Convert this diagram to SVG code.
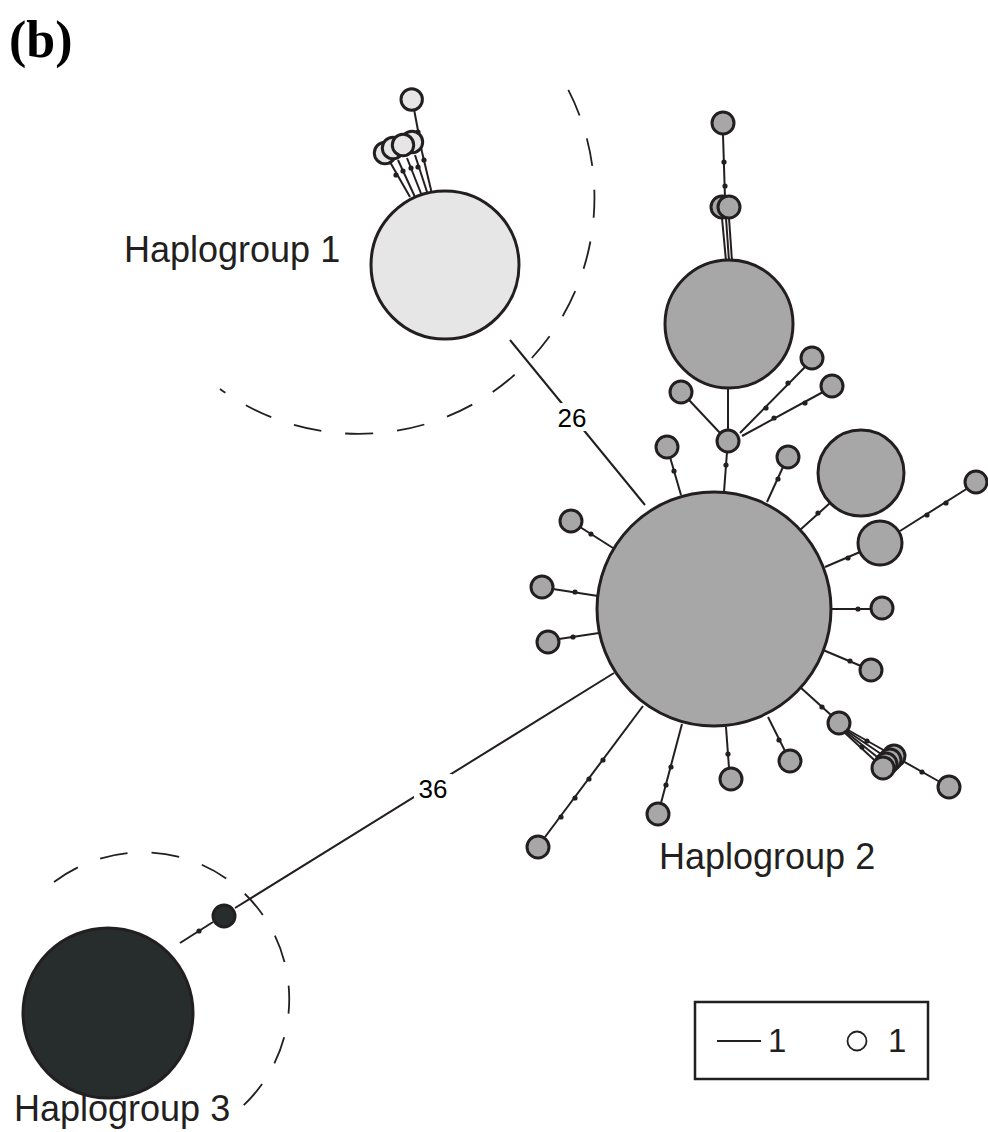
<svg xmlns="http://www.w3.org/2000/svg" width="988" height="1132" viewBox="0 0 988 1132">
<style>
.e{stroke:#231f20;stroke-width:2;fill:none}
.d{fill:#231f20}
.n{stroke:#231f20;stroke-width:3}
.h1{fill:#e6e6e6}
.h2{fill:#a7a7a7}
.h3{fill:#272c2c}
.dash{stroke:#231f20;stroke-width:1.8;fill:none;stroke-dasharray:28 24}
.lab{font-family:"Liberation Sans",Arial,sans-serif;font-size:36px;fill:#231f20}
.num{font-family:"Liberation Sans",Arial,sans-serif;font-size:26px;fill:#000}
</style>
<rect width="988" height="1132" fill="#fff"/>
<text x="9" y="57" font-family="Liberation Serif,Times New Roman,serif" font-weight="bold" font-size="52" fill="#000">(b)</text>

<g id="dashed">
<path class="dash" d="M568.3,89.9 A236,236 0 0 1 220,389"/>
<path class="dash" d="M54,882 A145,145 0 1 1 231,1116"/>
</g>

<g id="connectors">
<line class="e" x1="510" y1="340" x2="645" y2="505"/>
<line class="e" x1="614" y1="673" x2="235" y2="908"/>
<line class="e" x1="180" y1="943" x2="213" y2="922"/>
<line class="e" x1="414" y1="109" x2="422" y2="152"/>
<line class="e" x1="390" y1="162" x2="410" y2="197"/>
<line class="e" x1="398" y1="160" x2="415" y2="197"/>
<line class="e" x1="407" y1="158" x2="422" y2="196"/>
<line class="e" x1="415" y1="155" x2="428" y2="195"/>
<line class="e" x1="422" y1="152" x2="432" y2="194"/>
<line class="e" x1="723" y1="135" x2="725" y2="198"/>
<line class="e" x1="722" y1="218" x2="726" y2="261"/>
<line class="e" x1="726" y1="218" x2="729" y2="261"/>
<line class="e" x1="729" y1="218" x2="732" y2="261"/>
<line class="e" x1="728" y1="388" x2="728" y2="430"/>
<line class="e" x1="689" y1="400" x2="720" y2="433"/>
<line class="e" x1="740" y1="433" x2="805" y2="367"/>
<line class="e" x1="742" y1="436" x2="823" y2="392"/>
<line class="e" x1="727" y1="452" x2="724" y2="492"/>
<line class="e" x1="670" y1="457" x2="681" y2="495"/>
<line class="e" x1="783" y1="467" x2="767" y2="502"/>
<line class="e" x1="800" y1="530" x2="830" y2="503"/>
<line class="e" x1="825" y1="567" x2="860" y2="552"/>
<line class="e" x1="900" y1="531" x2="968" y2="488"/>
<line class="e" x1="831" y1="609" x2="871" y2="609"/>
<line class="e" x1="823" y1="650" x2="861" y2="666"/>
<line class="e" x1="800" y1="687" x2="831" y2="715"/>
<line class="e" x1="848" y1="730" x2="894" y2="756"/>
<line class="e" x1="847" y1="731" x2="890" y2="760"/>
<line class="e" x1="846" y1="732" x2="886" y2="764"/>
<line class="e" x1="845" y1="733" x2="883" y2="768"/>
<line class="e" x1="894" y1="756" x2="940" y2="782"/>
<line class="e" x1="768" y1="717" x2="785" y2="751"/>
<line class="e" x1="726" y1="727" x2="729" y2="768"/>
<line class="e" x1="682" y1="724" x2="661" y2="803"/>
<line class="e" x1="643" y1="706" x2="545" y2="837"/>
<line class="e" x1="580" y1="527" x2="613" y2="548"/>
<line class="e" x1="553" y1="589" x2="598" y2="596"/>
<line class="e" x1="559" y1="639" x2="599" y2="633"/>
<g class="d">
<circle cx="199" cy="931" r="2.6"/>
<circle cx="418" cy="132" r="2.6"/>
<circle cx="396" cy="175" r="2.6"/>
<circle cx="403" cy="171" r="2.6"/>
<circle cx="411" cy="168" r="2.6"/>
<circle cx="418" cy="167" r="2.6"/>
<circle cx="424" cy="160" r="2.6"/>
<circle cx="724" cy="162" r="2.6"/>
<circle cx="725" cy="186" r="2.6"/>
<circle cx="788" cy="383" r="2.6"/>
<circle cx="766" cy="408" r="2.6"/>
<circle cx="805" cy="403" r="2.6"/>
<circle cx="774" cy="418" r="2.6"/>
<circle cx="726" cy="465" r="2.6"/>
<circle cx="674" cy="471" r="2.6"/>
<circle cx="778" cy="479" r="2.6"/>
<circle cx="818" cy="513" r="2.6"/>
<circle cx="848" cy="558" r="2.6"/>
<circle cx="927" cy="515" r="2.6"/>
<circle cx="946" cy="503" r="2.6"/>
<circle cx="858" cy="609" r="2.6"/>
<circle cx="850" cy="661" r="2.6"/>
<circle cx="822" cy="707" r="2.6"/>
<circle cx="867" cy="741" r="2.6"/>
<circle cx="862" cy="747" r="2.6"/>
<circle cx="922" cy="772" r="2.6"/>
<circle cx="779" cy="740" r="2.6"/>
<circle cx="728" cy="754" r="2.6"/>
<circle cx="671" cy="767" r="2.6"/>
<circle cx="666" cy="785" r="2.6"/>
<circle cx="603" cy="760" r="2.6"/>
<circle cx="589" cy="779" r="2.6"/>
<circle cx="575" cy="798" r="2.6"/>
<circle cx="561" cy="817" r="2.6"/>
<circle cx="591" cy="534" r="2.6"/>
<circle cx="575" cy="592" r="2.6"/>
<circle cx="573" cy="637" r="2.6"/>
</g>
<g id="label26"><rect x="554" y="403" width="38" height="28" fill="#fff"/><text class="num" x="572" y="427" text-anchor="middle">26</text></g>
<g id="label36"><rect x="414" y="774" width="38" height="28" fill="#fff"/><text class="num" x="433" y="798" text-anchor="middle">36</text></g>
</g>

<g id="hap1">
<circle class="n h1" cx="445" cy="265" r="74"/>
<circle class="n h1" cx="411.7" cy="99.5" r="10.7"/>
<circle class="n h1" cx="412" cy="142" r="10.7"/>
<circle class="n h1" cx="385" cy="153" r="10.7"/>
<circle class="n h1" cx="393" cy="148" r="10.7"/>
<circle class="n h1" cx="403" cy="145" r="10.7"/>
<text class="lab" x="124" y="262">Haplogroup 1</text>
</g>

<g id="hap2">
<circle class="n h2" cx="714" cy="609" r="117"/>
<circle class="n h2" cx="729" cy="324" r="64"/>
<circle class="n h2" cx="861" cy="473" r="43"/>
<circle class="n h2" cx="880" cy="543" r="22"/>
<circle class="n h2" cx="723" cy="123" r="11"/>
<circle class="n h2" cx="722" cy="207" r="11"/>
<circle class="n h2" cx="729" cy="207" r="11"/>
<circle class="n h2" cx="681" cy="392" r="11"/>
<circle class="n h2" cx="728" cy="441" r="11"/>
<circle class="n h2" cx="812" cy="358" r="11"/>
<circle class="n h2" cx="832" cy="386" r="11"/>
<circle class="n h2" cx="667" cy="447" r="11"/>
<circle class="n h2" cx="788" cy="457" r="11"/>
<circle class="n h2" cx="976" cy="482" r="11"/>
<circle class="n h2" cx="882" cy="608" r="11"/>
<circle class="n h2" cx="871" cy="670" r="11"/>
<circle class="n h2" cx="839" cy="723" r="11"/>
<circle class="n h2" cx="894" cy="756" r="11"/>
<circle class="n h2" cx="890" cy="760" r="11"/>
<circle class="n h2" cx="886" cy="764" r="11"/>
<circle class="n h2" cx="883" cy="768" r="11"/>
<circle class="n h2" cx="949" cy="787" r="11"/>
<circle class="n h2" cx="790" cy="761" r="11"/>
<circle class="n h2" cx="731" cy="779" r="11"/>
<circle class="n h2" cx="658" cy="814" r="11"/>
<circle class="n h2" cx="538" cy="847" r="11"/>
<circle class="n h2" cx="571" cy="521" r="11"/>
<circle class="n h2" cx="542" cy="587" r="11"/>
<circle class="n h2" cx="548" cy="642" r="11"/>
<text class="lab" x="659" y="869">Haplogroup 2</text>
</g>

<g id="hap3">
<circle class="n h3" cx="108" cy="1013" r="85"/>
<circle class="n h3" cx="224" cy="916" r="11"/>
<text class="lab" x="14" y="1121">Haplogroup 3</text>
</g>

<g id="legend">
<rect x="695" y="1002" width="233" height="77" fill="#fff" stroke="#231f20" stroke-width="2.5"/>
<line x1="717" y1="1041" x2="761" y2="1041" stroke="#231f20" stroke-width="2"/>
<text x="768" y="1052" font-family="Liberation Sans,Arial,sans-serif" font-size="33" fill="#231f20">1</text>
<circle cx="857" cy="1041" r="9.5" fill="#fff" stroke="#231f20" stroke-width="1.8"/>
<text x="888" y="1052" font-family="Liberation Sans,Arial,sans-serif" font-size="33" fill="#231f20">1</text>
</g>
</svg>
